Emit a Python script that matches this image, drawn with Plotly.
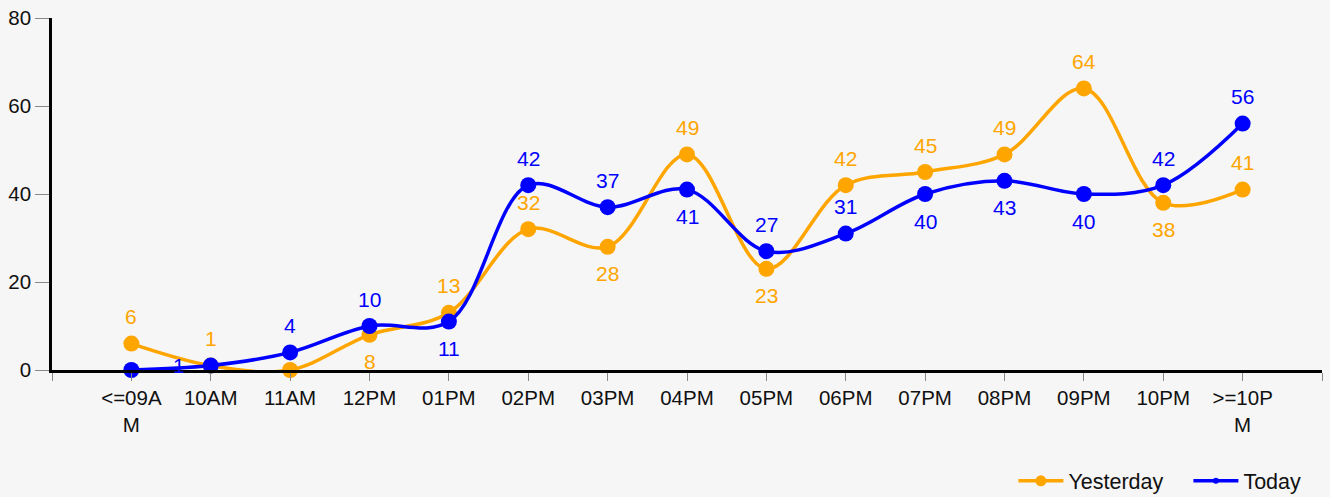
import plotly.graph_objects as go

categories = ["<=09AM", "10AM", "11AM", "12PM", "01PM", "02PM", "03PM", "04PM",
              "05PM", "06PM", "07PM", "08PM", "09PM", "10PM", ">=10PM"]
tick_labels = ["<=09A<br>M", "10AM", "11AM", "12PM", "01PM", "02PM", "03PM", "04PM",
               "05PM", "06PM", "07PM", "08PM", "09PM", "10PM", ">=10P<br>M"]
yesterday = [6, 1, 0, 8, 13, 32, 28, 49, 23, 42, 45, 49, 64, 38, 41]
today = [0, 1, 4, 10, 11, 42, 37, 41, 27, 31, 40, 43, 40, 42, 56]

# label placement: "t" above, "b" below, "l" left, "" hidden
y_pos = ["t", "t", "", "b", "t", "t", "b", "t", "b", "t", "t", "t", "t", "b", "t"]
t_pos = ["", "l", "t", "t", "b", "t", "t", "b", "t", "t", "b", "b", "b", "t", "t"]

x_idx = list(range(len(categories)))
ORANGE = "#FFA500"
BLUE = "#0000FF"
FONT = "Liberation Sans, Arial, sans-serif"

fig = go.Figure()
for name, vals, color in [("Yesterday", yesterday, ORANGE), ("Today", today, BLUE)]:
    fig.add_trace(go.Scatter(
        x=x_idx, y=vals, name=name, mode="lines+markers", showlegend=False,
        line=dict(color=color, width=3.5, shape="spline", smoothing=1),
        marker=dict(color=color, size=16),
        cliponaxis=False,
    ))

# legend-only entries
fig.add_trace(go.Scatter(x=[None], y=[None], name="Yesterday", mode="lines+markers",
                         line=dict(color=ORANGE, width=3.5), marker=dict(color=ORANGE, size=11)))
fig.add_trace(go.Scatter(x=[None], y=[None], name="Today", mode="lines+markers",
                         line=dict(color=BLUE, width=3.5), marker=dict(color=BLUE, size=6)))

annotations = []
for vals, pos, color in [(yesterday, y_pos, ORANGE), (today, t_pos, BLUE)]:
    for i, (v, p) in enumerate(zip(vals, pos)):
        if not p:
            continue
        xs, ys = 0, 0
        if p == "t":
            ys = 27
        elif p == "b":
            ys = -27
        elif p == "l":
            xs, ys = -32, 0
        annotations.append(dict(x=i, y=v, text=str(v), showarrow=False,
                                xshift=xs, yshift=ys,
                                font=dict(color=color, size=21, family=FONT)))

fig.update_layout(
    width=1330, height=497,
    margin=dict(l=52, r=8, t=18, b=127, autoexpand=False),
    paper_bgcolor="#f6f6f6", plot_bgcolor="#f6f6f6",
    font=dict(family=FONT, size=20.5, color="#111111"),
    showlegend=True,
    legend=dict(orientation="h", x=0.757, xanchor="left", y=-0.315, yanchor="middle",
                font=dict(size=21.5), bgcolor="rgba(0,0,0,0)", itemwidth=45,
                entrywidth=115, entrywidthmode="pixels", tracegroupgap=0),
    annotations=annotations,
)
fig.update_xaxes(
    range=[-1, 15], tickmode="array", tickvals=[-1] + x_idx + [15],
    ticktext=[""] + tick_labels + [""],
    showgrid=False, zeroline=False, showline=True, linecolor="black", linewidth=2.5,
    ticks="outside", ticklen=8, tickcolor="#888888", tickwidth=1,
)
fig.update_yaxes(
    range=[0, 80], tickvals=[0, 20, 40, 60, 80],
    showgrid=False, zeroline=False, showline=True, linecolor="black", linewidth=2.5,
    ticks="outside", ticklen=14, tickcolor="#888888", tickwidth=1,
)

fig.write_html("out.html", config={"displayModeBar": False},
               post_script="document.body.style.margin='0';document.body.style.background='#f6f6f6';")
